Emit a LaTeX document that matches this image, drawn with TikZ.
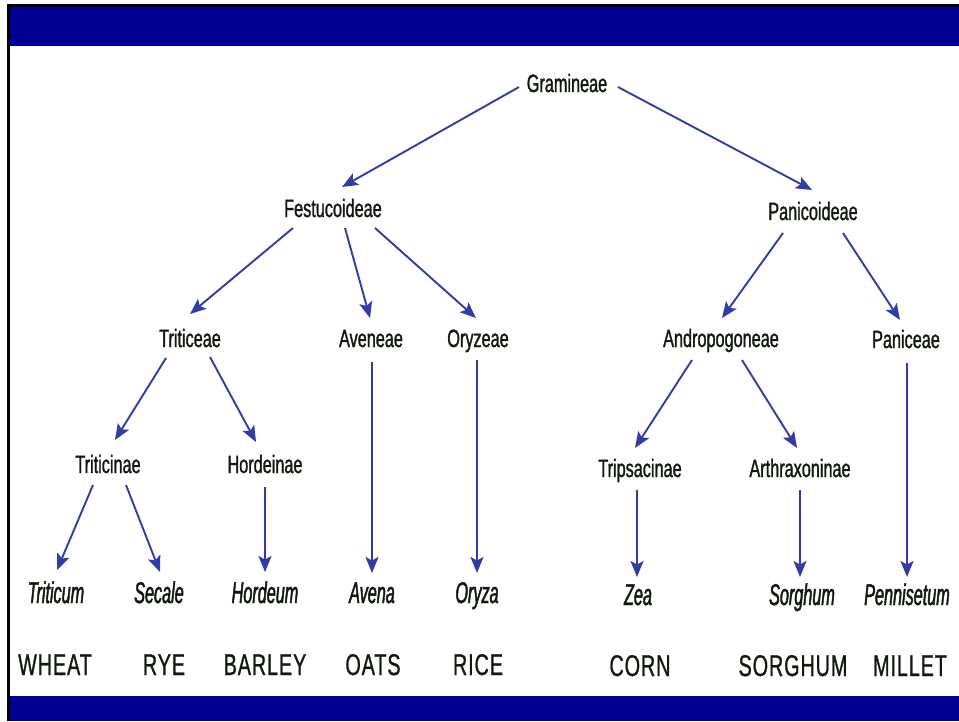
\documentclass[tikz,border=0pt]{standalone}
\usepackage{fontspec}
\usetikzlibrary{arrows.meta}
\newfontfamily\uprf[FakeStretch=0.65,FakeBold=1.2]{Liberation Sans}
\newfontfamily\genf[FakeStretch=0.54,FakeBold=1.5]{Liberation Sans Italic}
\newfontfamily\capf[FakeStretch=0.66,FakeBold=0.8,LetterSpace=3]{Liberation Sans}
\definecolor{barblue}{RGB}{0,0,148}
\definecolor{arrblue}{RGB}{50,60,165}
\definecolor{inkc}{RGB}{18,26,16}
\tikzset{
  taxon/.style={anchor=base,inner sep=0pt,text=inkc,font=\uprf\fontsize{25}{25}\selectfont},
  genus/.style={anchor=base,inner sep=0pt,text=inkc,font=\genf\fontsize{30}{30}\selectfont},
  crop/.style={anchor=base,inner sep=0pt,text=inkc,font=\capf\fontsize{30}{30}\selectfont},
  arr/.style={draw=arrblue,line width=1.9pt,-{Stealth[length=16pt,width=13pt,inset=3.5pt]}}
}
\begin{document}
\begin{tikzpicture}[x=1pt,y=-1pt]
\useasboundingbox (0,0) rectangle (959,721);
\fill[white] (0,0) rectangle (959,721);
% frame and bars
\fill[black] (7,4) rectangle (959,7);
\fill[black] (7,4) rectangle (10,721);
\fill[barblue] (10,7) rectangle (959,46);
\fill[barblue] (10,696) rectangle (959,721);
% nodes
\node[taxon] (gram) at (567,92) {Gramineae};
\node[taxon] (fest) at (333,217) {Festucoideae};
\node[taxon] (pani) at (813,220) {Panicoideae};
\node[taxon] (triticeae) at (190,347) {Triticeae};
\node[taxon] (aveneae) at (371,347) {Aveneae};
\node[taxon] (oryzeae) at (478,347) {Oryzeae};
\node[taxon] (andro) at (721,347) {Andropogoneae};
\node[taxon] (paniceae) at (906,348) {Paniceae};
\node[taxon] (triticinae) at (108,473) {Triticinae};
\node[taxon] (hordeinae) at (265,473) {Hordeinae};
\node[taxon] (tripsa) at (640,477) {Tripsacinae};
\node[taxon] (arthrax) at (800,477) {Arthraxoninae};
\node[genus] (triticum) at (56,603) {Triticum};
\node[genus] (secale) at (159,603) {Secale};
\node[genus] (hordeum) at (265,603) {Hordeum};
\node[genus] (avena) at (372,603) {Avena};
\node[genus] (oryza) at (477,603) {Oryza};
\node[genus] (zea) at (638,605) {Zea};
\node[genus] (sorghum) at (802,605) {Sorghum};
\node[genus] (penni) at (907,605) {Pennisetum};
\node[crop] (wheat) at (55,675) {WHEAT};
\node[crop] (rye) at (164,675) {RYE};
\node[crop] (barley) at (265,675) {BARLEY};
\node[crop] (oats) at (373,675) {OATS};
\node[crop] (rice) at (478,675) {RICE};
\node[crop] (corn) at (640,676) {CORN};
\node[crop] (sorghumc) at (793,676) {SORGHUM};
\node[crop] (millet) at (910,676) {MILLET};
% connectors
\draw[arr] ([shift={(-48,-5)}]gram.base) -- ([shift={(9,-30)}]fest.base);
\draw[arr] ([shift={(51,-5)}]gram.base) -- ([shift={(-1,-30)}]pani.base);
\draw[arr] ([shift={(-40,11)}]fest.base) -- ([shift={(0,-33)}]triticeae.base);
\draw[arr] ([shift={(12,11)}]fest.base) -- ([shift={(-1,-29)}]aveneae.base);
\draw[arr] ([shift={(42,11)}]fest.base) -- ([shift={(-2,-29)}]oryzeae.base);
\draw[arr] ([shift={(-30,13)}]pani.base) -- ([shift={(1,-29)}]andro.base);
\draw[arr] ([shift={(30,13)}]pani.base) -- ([shift={(-6,-28)}]paniceae.base);
\draw[arr] ([shift={(-24,11)}]triticeae.base) -- ([shift={(7,-33)}]triticinae.base);
\draw[arr] ([shift={(20,10)}]triticeae.base) -- ([shift={(-9,-31)}]hordeinae.base);
\draw[arr] ([shift={(1,15)}]aveneae.base) -- ([shift={(0,-30)}]avena.base);
\draw[arr] ([shift={(-1,13)}]oryzeae.base) -- ([shift={(0,-30)}]oryza.base);
\draw[arr] ([shift={(-15,12)}]triticinae.base) -- ([shift={(1,-33)}]triticum.base);
\draw[arr] ([shift={(18,12)}]triticinae.base) -- ([shift={(1,-31)}]secale.base);
\draw[arr] ([shift={(0,14)}]hordeinae.base) -- ([shift={(0,-31)}]hordeum.base);
\draw[arr] ([shift={(-29,13)}]andro.base) -- ([shift={(-5,-29)}]tripsa.base);
\draw[arr] ([shift={(21,13)}]andro.base) -- ([shift={(-3,-29)}]arthrax.base);
\draw[arr] ([shift={(-3,13)}]tripsa.base) -- ([shift={(-1,-28)}]zea.base);
\draw[arr] ([shift={(0,13)}]arthrax.base) -- ([shift={(-2,-28)}]sorghum.base);
\draw[arr] ([shift={(1,15)}]paniceae.base) -- ([shift={(0,-28)}]penni.base);
\end{tikzpicture}
\end{document}
